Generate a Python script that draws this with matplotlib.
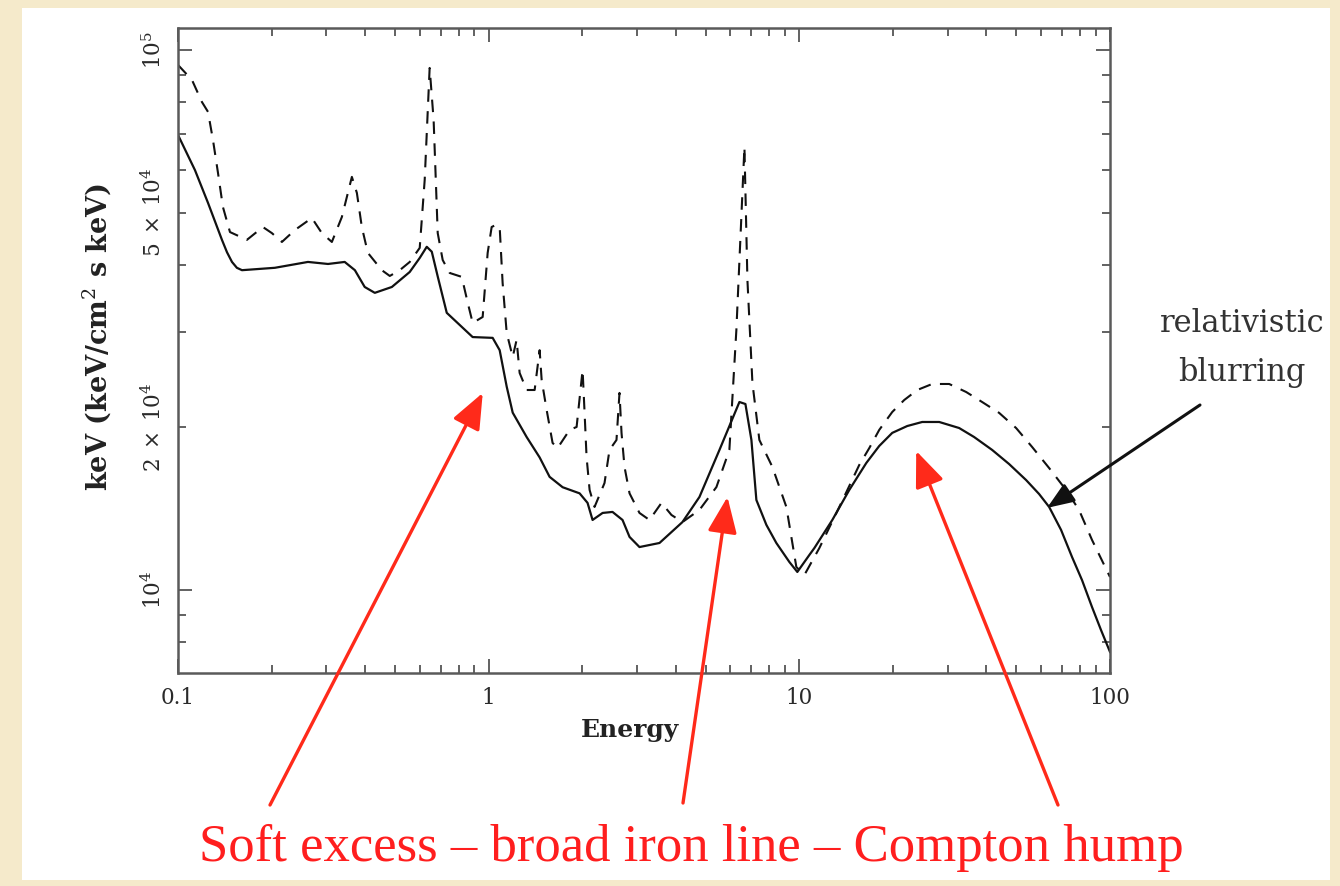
import matplotlib
matplotlib.use('Agg')
import matplotlib.pyplot as plt
from matplotlib.patches import Rectangle
from matplotlib.ticker import FixedLocator, FuncFormatter, NullFormatter

# ---------------- data ----------------
energy_solid = [0.100, 0.1134, 0.1249, 0.1385, 0.1438, 0.1492, 0.1547, 0.1607, 0.205, 0.262, 0.304, 0.344,
                0.371, 0.399, 0.430, 0.488, 0.557, 0.600, 0.632, 0.656, 0.686, 0.733,
                0.888, 1.03, 1.085, 1.143, 1.195, 1.325, 1.459, 1.571, 1.73, 1.962,
                2.081, 2.16, 2.327, 2.504, 2.697, 2.841, 3.058, 3.547, 4.205, 4.77,
                5.532, 6.414, 6.706, 7.01, 7.273, 7.833, 8.433, 9.287, 9.853, 10.77,
                11.18, 12.77, 14.48, 16.43, 18.08, 19.91, 22.25, 24.86, 28.20, 32.69,
                36.52, 41.75, 47.34, 53.7, 59.11, 63.69, 69.58, 75.48, 81.28, 87.52,
                93.56, 100]
flux_solid = [69600, 59900, 52100, 44500, 42200, 40500, 39500, 39100, 39500, 40500, 40150, 40500,
              39100, 36400, 35500, 36400, 38800, 41200, 43200, 42300, 38000, 32600,
              29400, 29300, 27800, 23800, 21300, 19200, 17600, 16200, 15500, 15100,
              14500, 13480, 13890, 13950, 13480, 12540, 12010, 12220, 13360, 14870,
              18170, 22290, 22100, 18960, 14680, 13200, 12220, 11270, 10800, 11610,
              11960, 13480, 15320, 17190, 18480, 19540, 20120, 20470, 20470, 19950,
              19200, 18170, 17110, 15980, 15060, 14250, 12920, 11510, 10430, 9300,
              8430, 7680]

energy_dashed = [0.100, 0.1109, 0.1194, 0.1249, 0.1296, 0.1345, 0.1395, 0.147, 0.1667, 0.1876,
                 0.2005, 0.216, 0.2378, 0.2697, 0.2904, 0.3128, 0.3369, 0.3628, 0.3765, 0.3906,
                 0.4084, 0.453, 0.4805, 0.5173, 0.5572, 0.5999, 0.6224, 0.6457, 0.665, 0.6855,
                 0.7113, 0.7491, 0.819, 0.8565, 0.8884, 0.9565, 0.9926, 1.0224, 1.053, 1.085,
                 1.109, 1.143, 1.195, 1.23, 1.258, 1.325, 1.406, 1.459, 1.481, 1.537,
                 1.606, 1.667, 1.822, 1.919, 2.006, 2.036, 2.066, 2.113, 2.192, 2.36,
                 2.449, 2.579, 2.637, 2.677, 2.737, 2.841, 3.058, 3.293, 3.6, 3.876,
                 4.205, 4.77, 5.409, 5.954, 6.271, 6.657, 6.806, 7.063, 7.436, 8.189,
                 9.083, 9.781, 10.38, 11.6, 13.45, 15.59, 16.8, 18.08, 19.91, 21.76,
                 23.96, 26.77, 30.36, 34.44, 38.76, 43.97, 49.86, 56.15, 63.69, 72.19,
                 79.48, 87.52, 100]
flux_dashed = [93800, 88000, 80100, 76800, 68100, 59200, 51200, 46000, 44500, 47000,
               45800, 44100, 46400, 48850, 45800, 44100, 49060, 58200, 54360, 47000,
               42100, 39100, 38150, 39100, 40500, 43000, 57440, 92600, 74200, 45800,
               40830, 38640, 38000, 34010, 31220, 32030, 42100, 47000, 47420, 47000,
               37030, 29920, 27010, 29040, 25230, 23460, 23460, 27800, 24490, 21540,
               18720, 18320, 19790, 20040, 25550, 21280, 17630, 15320, 14250, 15780,
               18170, 18960, 23170, 19540, 16900, 15100, 13890, 13480, 14500, 13770,
               13360, 14070, 15510, 18170, 30310, 66130, 37510, 24180, 18960, 16900,
               14250, 11030, 10660, 11960, 14250, 17040, 18320, 19790, 21360, 22480,
               23460, 24070, 24070, 23260, 22290, 21280, 19950, 18400, 16820, 15320,
               14070, 12380, 10570]

x_ticks = [0.1, 1, 10, 100]
x_tick_labels = ['0.1', '1', '10', '100']
y_major_ticks = [1e4, 1e5]
y_minor_ticks = [8e3, 9e3, 2e4, 3e4, 4e4, 5e4, 6e4, 7e4, 8e4, 9e4]
y_tick_labels = {1e4: r'$10^4$', 2e4: r'$2\;\times\;10^4$', 5e4: r'$5\;\times\;10^4$', 1e5: r'$10^5$'}

x_label = 'Energy'
y_label = r'keV (keV/cm$^2$ s keV)'
annotation_text = 'relativistic'
annotation_text2 = 'blurring'
caption = 'Soft excess \u2013 broad iron line \u2013 Compton hump'

# arrow tips in data coordinates
soft_tip = (0.957, 23170)
iron_tip = (5.87, 14870)
compton_tip = (23.78, 18090)
blur_tip = (62.7, 14190)

# ---------------- figure ----------------
W, H = 1340, 886
plt.rcParams['mathtext.fontset'] = 'dejavuserif'
fig = plt.figure(figsize=(W / 100, H / 100), dpi=100)
fig.patch.set_facecolor('#F5EACB')
fig.patches.append(Rectangle((22 / W, 6 / H), (1330 - 22) / W, (878 - 6) / H,
                             transform=fig.transFigure, facecolor='white',
                             edgecolor='none', zorder=-10))

ax = fig.add_axes([178 / W, (H - 673) / H, (1110 - 178) / W, (673 - 28) / H])
ax.set_zorder(1)
ax.set_facecolor('white')
ax.set_xscale('log')
ax.set_yscale('log')
ax.set_xlim(0.1, 100)
ax.set_ylim(7020, 1.098e5)

ax.plot(energy_solid, flux_solid, color='#111111', lw=1.6, solid_joinstyle='round')
ax.plot(energy_dashed, flux_dashed, color='#111111', lw=1.5, dashes=(6, 4.5))

for s in ax.spines.values():
    s.set_color('#5a5a5a')
    s.set_linewidth(1.8)

ax.xaxis.set_major_locator(FixedLocator(x_ticks))
ax.xaxis.set_major_formatter(FuncFormatter(lambda v, p: x_tick_labels[x_ticks.index(v)] if v in x_ticks else ''))
ax.xaxis.set_minor_locator(FixedLocator([m * 10.0 ** d for d in (-1, 0, 1) for m in range(2, 10)]))
ax.xaxis.set_minor_formatter(NullFormatter())

ax.yaxis.set_major_locator(FixedLocator(y_major_ticks))
ax.yaxis.set_minor_locator(FixedLocator(y_minor_ticks))
fmt = FuncFormatter(lambda v, p: y_tick_labels.get(v, ''))
ax.yaxis.set_major_formatter(fmt)
ax.yaxis.set_minor_formatter(fmt)

ax.tick_params(which='both', direction='in', top=True, right=True, color='#555555', width=1.3)
ax.tick_params(which='major', length=10)
ax.tick_params(which='minor', length=5.5)
ax.tick_params(axis='x', which='both', pad=10, labelsize=15.5, labelcolor='#2a2a2a')
ax.tick_params(axis='y', which='both', pad=9, labelsize=15.5, labelcolor='#2a2a2a')
for lab in ax.get_xticklabels():
    lab.set_family('DejaVu Serif')
for lab in ax.get_yticklabels() + ax.get_yticklabels(minor=True):
    lab.set_rotation(90)
    lab.set_va('center')
    lab.set_family('DejaVu Serif')

fig.text(630 / W, 1 - 730 / H, x_label, ha='center', va='center', fontsize=18,
         family='DejaVu Serif', fontweight='bold', color='#222222')
fig.text(97 / W, 1 - 337 / H, y_label, ha='center', va='center', rotation=90,
         fontsize=19.5, family='DejaVu Serif', fontweight='bold', color='#222222')

fig.text(1242 / W, 1 - 323 / H, annotation_text, ha='center', va='center',
         fontsize=22, family='DejaVu Serif', color='#333333')
fig.text(1242 / W, 1 - 372 / H, annotation_text2, ha='center', va='center',
         fontsize=22, family='DejaVu Serif', color='#333333')

fig.text(691 / W, 1 - 848 / H, caption, ha='center', va='center',
         fontsize=38, family='Liberation Serif', color='#FF1E1E')

red = '#FF2A1A'
red_style = '-|>,head_length=1.1,head_width=0.45'
for tip, tail in [(soft_tip, (270, H - 805)), (iron_tip, (683, H - 803)),
                  (compton_tip, (1058, H - 805))]:
    ax.annotate('', xy=tip, xycoords='data', xytext=tail, textcoords='figure pixels',
                annotation_clip=False,
                arrowprops=dict(arrowstyle=red_style, color=red, lw=2.4,
                                mutation_scale=20, shrinkA=0, shrinkB=0))

ax.annotate('', xy=blur_tip, xycoords='data', xytext=(1200, H - 405), textcoords='figure pixels',
            annotation_clip=False,
            arrowprops=dict(arrowstyle='-|>,head_length=0.9,head_width=0.35', color='#111111',
                            lw=2.2, mutation_scale=18, shrinkA=0, shrinkB=0))

fig.savefig('out.png', dpi=100, facecolor=fig.get_facecolor())
